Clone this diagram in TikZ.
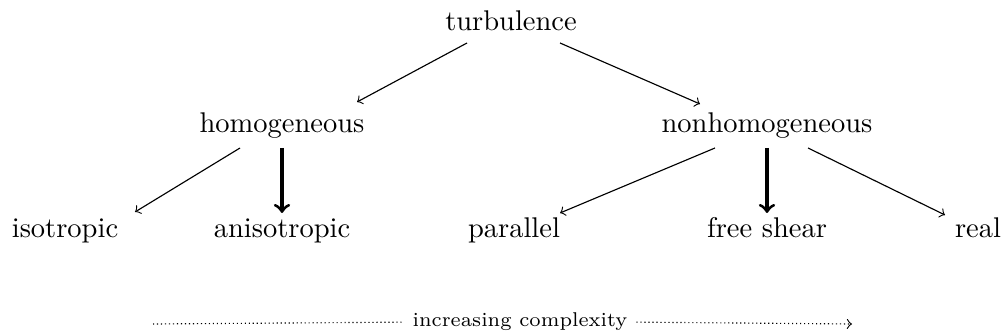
\documentclass[tikz,border=0pt]{standalone}
\usetikzlibrary{calc}

\begin{document}
\begin{tikzpicture}[>=to,x=0.3509pt,y=-0.3509pt,
    lbl/.style={inner sep=0pt,anchor=base},
    branch/.style={->,thin},
    trunk/.style={->,line width=1.1pt}]
  \useasboundingbox (0,0) rectangle (1002,336);
  \node[lbl] (turb) at (511,31) {turbulence};
  \node[lbl] (homog) at (282,133) {homogeneous};
  \node[lbl] (nonhomog) at (767,133) {nonhomogeneous};
  \node[lbl] (iso) at (65,238) {isotropic};
  \node[lbl] (aniso) at (282,238) {anisotropic};
  \node[lbl] (par) at (514,238) {parallel};
  \node[lbl] (free) at (767,238) {free shear};
  \node[lbl] (real) at (978,238) {real};
  \node[lbl,font=\scriptsize] (cx) at (520,327) {increasing complexity};
  \coordinate (cxL) at (153,324);
  \coordinate (cxR) at (852,324);
  \draw[branch] ($(turb.base)+(-44,12)$) -- ($(homog.base)+(75,-31)$);
  \draw[branch] ($(turb.base)+(49,12)$) -- ($(nonhomog.base)+(-67,-29)$);
  \draw[branch] ($(homog.base)+(-42,15)$) -- ($(iso.base)+(70,-26)$);
  \draw[trunk] ($(homog.base)+(0,15)$) -- ($(aniso.base)+(0,-25)$);
  \draw[branch] ($(nonhomog.base)+(-52,15)$) -- ($(par.base)+(46,-25)$);
  \draw[trunk] ($(nonhomog.base)+(0,15)$) -- ($(free.base)+(0,-25)$);
  \draw[branch] ($(nonhomog.base)+(41,15)$) -- ($(real.base)+(-33,-23)$);
  \draw[densely dotted] (cxL) -- ([xshift=-3pt]cx.west);
  \draw[densely dotted,->] ([xshift=3pt]cx.east) -- (cxR);
\end{tikzpicture}
\end{document}
